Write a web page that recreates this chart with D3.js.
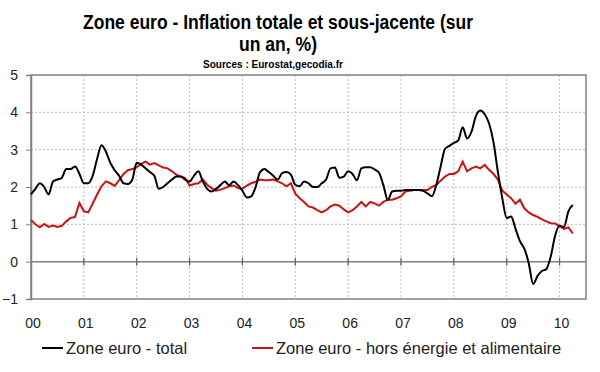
<!DOCTYPE html>
<html>
<head>
<meta charset="utf-8">
<script src="https://cdn.jsdelivr.net/npm/d3@7"></script>
<style>
  body { margin: 0; background: #fff; }
  svg text { font-family: "Liberation Sans", Arial, sans-serif; }
</style>
</head>
<body>
<svg id="chart" width="600" height="372"></svg>
<script>
// monthly values, Jan 2000 -> Apr 2010
var total = [
  1.80, 1.95, 2.10, 2.00, 1.80, 2.15, 2.20, 2.25, 2.48, 2.48, 2.55, 2.35,
  2.10, 2.10, 2.30, 2.75, 3.12, 2.95, 2.65, 2.45, 2.30, 2.10, 2.08, 2.20,
  2.65, 2.60, 2.50, 2.40, 2.30, 1.95, 2.00, 2.10, 2.20, 2.28, 2.28, 2.20,
  2.15, 2.30, 2.42, 2.15, 1.95, 1.88, 1.95, 2.05, 2.15, 2.05, 2.15, 2.05,
  1.90, 1.72, 1.75, 2.00, 2.40, 2.48, 2.40, 2.30, 2.20, 2.37, 2.40, 2.33,
  2.06, 2.02, 2.15, 2.10, 2.00, 2.00, 2.10, 2.20, 2.50, 2.52, 2.25, 2.28,
  2.42, 2.35, 2.18, 2.50, 2.53, 2.53, 2.47, 2.38, 2.05, 1.65, 1.88, 1.90,
  1.90, 1.92, 1.92, 1.92, 1.92, 1.90, 1.83, 1.75, 2.05, 2.55, 3.02, 3.10,
  3.18, 3.25, 3.60, 3.30, 3.48, 3.90, 4.05, 3.95, 3.70, 3.20, 2.40, 1.70,
  1.17, 1.21, 0.88, 0.55, 0.35, -0.04, -0.60, -0.38, -0.25, -0.20, 0.14, 0.70,
  0.96, 0.93, 1.35, 1.52
];
var core = [
  1.12, 1.00, 0.92, 1.01, 0.93, 0.97, 0.93, 0.96, 1.08, 1.17, 1.20, 1.57,
  1.35, 1.32, 1.55, 1.80, 2.02, 2.15, 2.10, 2.03, 2.18, 2.35, 2.45, 2.48,
  2.53, 2.62, 2.68, 2.60, 2.64, 2.58, 2.52, 2.50, 2.42, 2.33, 2.28, 2.24,
  2.04, 2.08, 2.10, 2.20, 2.06, 1.97, 1.90, 1.93, 1.97, 2.02, 2.04, 1.97,
  1.95, 2.04, 2.10, 2.14, 2.20, 2.18, 2.18, 2.20, 2.15, 2.10, 2.02, 2.10,
  1.82, 1.70, 1.60, 1.48, 1.45, 1.38, 1.32, 1.38, 1.48, 1.53, 1.50, 1.40,
  1.32, 1.38, 1.48, 1.60, 1.48, 1.60, 1.56, 1.50, 1.60, 1.66, 1.66, 1.70,
  1.75, 1.88, 1.90, 1.92, 1.92, 1.92, 1.92, 2.00, 2.05, 2.17, 2.28, 2.35,
  2.35, 2.42, 2.68, 2.42, 2.50, 2.55, 2.50, 2.59, 2.46, 2.35, 2.20, 1.90,
  1.80, 1.70, 1.55, 1.66, 1.43, 1.32, 1.25, 1.20, 1.13, 1.08, 1.03, 1.02,
  0.95, 0.88, 0.92, 0.76
];
var yearLabels = ["00", "01", "02", "03", "04", "05", "06", "07", "08", "09", "10"];
var yTicks = [-1, 0, 1, 2, 3, 4, 5];
var seriesNames = ["Zone euro - total", "Zone euro - hors énergie et alimentaire"];

var svg = d3.select("#chart");
var pLeft = 31, pRight = 586, pTop = 75, pBottom = 299;

var x = d3.scaleLinear().domain([0, 126]).range([pLeft, pRight]);
var y = d3.scaleLinear().domain([-1, 5]).range([pBottom, pTop]);

// titles (condensed, like the original)
var titles = [
  {t: "Zone euro - Inflation totale et sous-jacente (sur", y: 29, size: 20, w: 390},
  {t: "un an, %)", y: 51, size: 20, w: 78},
  {t: "Sources : Eurostat,gecodia.fr", y: 68, size: 11, w: 140}
];
svg.selectAll("text.title")
  .data(titles)
  .enter().append("text")
  .attr("class", "title")
  .attr("x", function(d, i){ return i == 2 ? 273 : 278; })
  .attr("y", function(d){ return d.y; })
  .attr("text-anchor", "middle")
  .attr("textLength", function(d){ return d.w; })
  .attr("lengthAdjust", "spacingAndGlyphs")
  .style("font-weight", "bold")
  .style("font-size", function(d){ return d.size + "px"; })
  .text(function(d){ return d.t; });

// grid
var grid = svg.append("g");
grid.selectAll("line.h")
  .data(yTicks.filter(function(d){ return d > -1 && d < 5 && d != 0; }))
  .enter().append("line")
  .attr("x1", pLeft).attr("x2", pRight)
  .attr("y1", function(d){ return y(d); })
  .attr("y2", function(d){ return y(d); })
  .attr("stroke", "#bdbdbd").attr("stroke-dasharray", "2,2");
grid.selectAll("line.v")
  .data(yearLabels.slice(1))
  .enter().append("line")
  .attr("x1", function(d, i){ return x((i + 1) * 12); })
  .attr("x2", function(d, i){ return x((i + 1) * 12); })
  .attr("y1", pTop).attr("y2", pBottom)
  .attr("stroke", "#bdbdbd").attr("stroke-dasharray", "2,2");

// frame
svg.append("rect")
  .attr("x", pLeft).attr("y", pTop)
  .attr("width", pRight - pLeft).attr("height", pBottom - pTop)
  .attr("fill", "none").attr("stroke", "#808080").attr("stroke-width", 1.5);

// y axis
var yAxis = svg.append("g")
  .attr("transform", "translate(" + pLeft + ",0)")
  .call(d3.axisLeft(y).tickValues(yTicks).tickFormat(d3.format("d")).tickSize(5).tickPadding(8));
yAxis.select(".domain").attr("stroke", "#808080").attr("stroke-width", 1.5);
yAxis.selectAll(".tick line").attr("stroke", "#808080");
yAxis.selectAll("text").style("font-size", "14px").attr("fill", "#222");

// zero line with crossing ticks
svg.append("line")
  .attr("x1", pLeft).attr("x2", pRight)
  .attr("y1", y(0)).attr("y2", y(0))
  .attr("stroke", "#808080").attr("stroke-width", 1.5);
svg.selectAll("line.xt")
  .data(yearLabels.slice(1))
  .enter().append("line")
  .attr("x1", function(d, i){ return x((i + 1) * 12); })
  .attr("x2", function(d, i){ return x((i + 1) * 12); })
  .attr("y1", y(0) - 4).attr("y2", y(0) + 4)
  .attr("stroke", "#606060").attr("stroke-width", 1.2);

// x labels
svg.selectAll("text.xl")
  .data(yearLabels)
  .enter().append("text")
  .attr("x", function(d, i){ return x(i * 12) + 2; })
  .attr("y", 328)
  .attr("text-anchor", "middle")
  .style("font-size", "14px").attr("fill", "#222")
  .text(function(d){ return d; });

// lines
var lineSmooth = d3.line()
  .x(function(d, i){ return x(i); })
  .y(function(d){ return y(d); })
  .curve(d3.curveMonotoneX);
var lineStraight = d3.line()
  .x(function(d, i){ return x(i); })
  .y(function(d){ return y(d); });

svg.append("path")
  .attr("d", lineStraight(core))
  .attr("fill", "none").attr("stroke", "#cc1111").attr("stroke-width", 2);
svg.append("path")
  .attr("d", lineSmooth(total))
  .attr("fill", "none").attr("stroke", "#000").attr("stroke-width", 2);

// legend
var legend = svg.append("g");
var legendX = [42, 252];
var legendColors = ["#000", "#cc1111"];
seriesNames.forEach(function(name, i){
  legend.append("line")
    .attr("x1", legendX[i]).attr("x2", legendX[i] + 21)
    .attr("y1", 348).attr("y2", 348)
    .attr("stroke", legendColors[i]).attr("stroke-width", 2);
  legend.append("text")
    .attr("x", legendX[i] + 24).attr("y", 354)
    .style("font-size", "16.5px").attr("fill", "#222")
    .text(name);
});
</script>
</body>
</html>
